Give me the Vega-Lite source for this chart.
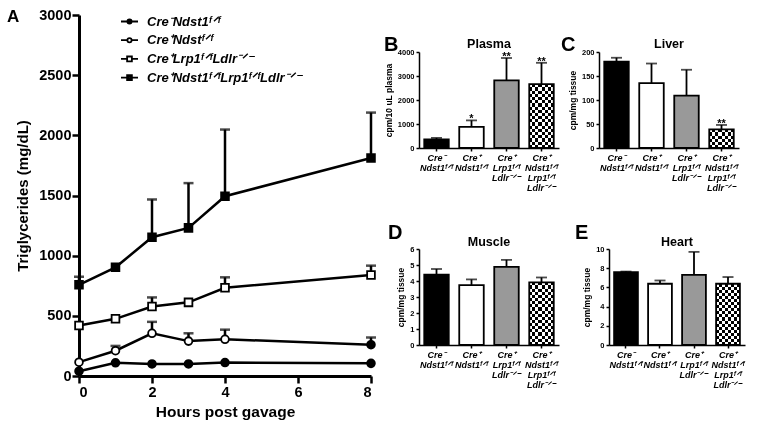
{
"$schema":"https://vega.github.io/schema/vega-lite/v6.json",
"padding":{"left":7,"top":7,"right":5,"bottom":5},
"background":"white",
"config":{"font":"Liberation Sans","view":{"stroke":null},
 "axis":{"grid":false,"domainColor":"black","tickColor":"black","labelColor":"black","titleColor":"black","labelFontWeight":"bold","titleFontWeight":"bold"},
 "title":{"fontWeight":"bold","color":"black"}},
"resolve":{"scale":{"fill":"independent","color":"independent","shape":"independent"}},
"datasets":{
"tg":[
{"sid":1,"series":"Cre⁻Ndst1ᶠᐟᶠ","hour":0,"value":40,"upper":40},
{"sid":1,"series":"Cre⁻Ndst1ᶠᐟᶠ","hour":1,"value":110,"upper":110},
{"sid":1,"series":"Cre⁻Ndst1ᶠᐟᶠ","hour":2,"value":100,"upper":100},
{"sid":1,"series":"Cre⁻Ndst1ᶠᐟᶠ","hour":3,"value":100,"upper":100},
{"sid":1,"series":"Cre⁻Ndst1ᶠᐟᶠ","hour":4,"value":112,"upper":112},
{"sid":1,"series":"Cre⁻Ndst1ᶠᐟᶠ","hour":8,"value":105,"upper":105},
{"sid":2,"series":"Cre⁺Ndstᶠᐟᶠ","hour":0,"value":115,"upper":115},
{"sid":2,"series":"Cre⁺Ndstᶠᐟᶠ","hour":1,"value":210,"upper":250},
{"sid":2,"series":"Cre⁺Ndstᶠᐟᶠ","hour":2,"value":355,"upper":450},
{"sid":2,"series":"Cre⁺Ndstᶠᐟᶠ","hour":3,"value":290,"upper":355},
{"sid":2,"series":"Cre⁺Ndstᶠᐟᶠ","hour":4,"value":305,"upper":385},
{"sid":2,"series":"Cre⁺Ndstᶠᐟᶠ","hour":8,"value":260,"upper":320},
{"sid":3,"series":"Cre⁺Lrp1ᶠᐟᶠLdlr⁻ᐟ⁻","hour":0,"value":420,"upper":420},
{"sid":3,"series":"Cre⁺Lrp1ᶠᐟᶠLdlr⁻ᐟ⁻","hour":1,"value":475,"upper":475},
{"sid":3,"series":"Cre⁺Lrp1ᶠᐟᶠLdlr⁻ᐟ⁻","hour":2,"value":578,"upper":653},
{"sid":3,"series":"Cre⁺Lrp1ᶠᐟᶠLdlr⁻ᐟ⁻","hour":3,"value":612,"upper":612},
{"sid":3,"series":"Cre⁺Lrp1ᶠᐟᶠLdlr⁻ᐟ⁻","hour":4,"value":733,"upper":820},
{"sid":3,"series":"Cre⁺Lrp1ᶠᐟᶠLdlr⁻ᐟ⁻","hour":8,"value":840,"upper":917},
{"sid":4,"series":"Cre⁺Ndst1ᶠᐟᶠLrp1ᶠᐟᶠLdlr⁻ᐟ⁻","hour":0,"value":758,"upper":825},
{"sid":4,"series":"Cre⁺Ndst1ᶠᐟᶠLrp1ᶠᐟᶠLdlr⁻ᐟ⁻","hour":1,"value":903,"upper":903},
{"sid":4,"series":"Cre⁺Ndst1ᶠᐟᶠLrp1ᶠᐟᶠLdlr⁻ᐟ⁻","hour":2,"value":1153,"upper":1467},
{"sid":4,"series":"Cre⁺Ndst1ᶠᐟᶠLrp1ᶠᐟᶠLdlr⁻ᐟ⁻","hour":3,"value":1231,"upper":1603},
{"sid":4,"series":"Cre⁺Ndst1ᶠᐟᶠLrp1ᶠᐟᶠLdlr⁻ᐟ⁻","hour":4,"value":1494,"upper":2048},
{"sid":4,"series":"Cre⁺Ndst1ᶠᐟᶠLrp1ᶠᐟᶠLdlr⁻ᐟ⁻","hour":8,"value":1811,"upper":2189}
],
"bars":[
{"tissue":"Plasma","g":1,"group":"Cre⁻|Ndst1ᶠᐟᶠ","value":360,"upper":420,"sig":""},
{"tissue":"Plasma","g":2,"group":"Cre⁺|Ndst1ᶠᐟᶠ","value":880,"upper":1150,"sig":"*"},
{"tissue":"Plasma","g":3,"group":"Cre⁺|Lrp1ᶠᐟᶠ|Ldlr⁻ᐟ⁻","value":2820,"upper":3750,"sig":"**"},
{"tissue":"Plasma","g":4,"group":"Cre⁺|Ndst1ᶠᐟᶠ|Lrp1ᶠᐟᶠ|Ldlr⁻ᐟ⁻","value":2660,"upper":3550,"sig":"**"},
{"tissue":"Liver","g":1,"group":"Cre⁻|Ndst1ᶠᐟᶠ","value":180,"upper":188,"sig":""},
{"tissue":"Liver","g":2,"group":"Cre⁺|Ndst1ᶠᐟᶠ","value":135,"upper":176,"sig":""},
{"tissue":"Liver","g":3,"group":"Cre⁺|Lrp1ᶠᐟᶠ|Ldlr⁻ᐟ⁻","value":109,"upper":163,"sig":""},
{"tissue":"Liver","g":4,"group":"Cre⁺|Ndst1ᶠᐟᶠ|Lrp1ᶠᐟᶠ|Ldlr⁻ᐟ⁻","value":39,"upper":48,"sig":"**"},
{"tissue":"Muscle","g":1,"group":"Cre⁻|Ndst1ᶠᐟᶠ","value":4.4,"upper":4.75,"sig":""},
{"tissue":"Muscle","g":2,"group":"Cre⁺|Ndst1ᶠᐟᶠ","value":3.74,"upper":4.1,"sig":""},
{"tissue":"Muscle","g":3,"group":"Cre⁺|Lrp1ᶠᐟᶠ|Ldlr⁻ᐟ⁻","value":4.88,"upper":5.32,"sig":""},
{"tissue":"Muscle","g":4,"group":"Cre⁺|Ndst1ᶠᐟᶠ|Lrp1ᶠᐟᶠ|Ldlr⁻ᐟ⁻","value":3.92,"upper":4.22,"sig":""},
{"tissue":"Heart","g":1,"group":"Cre⁻|Ndst1ᶠᐟᶠ","value":7.6,"upper":7.65,"sig":""},
{"tissue":"Heart","g":2,"group":"Cre⁺|Ndst1ᶠᐟᶠ","value":6.38,"upper":6.72,"sig":""},
{"tissue":"Heart","g":3,"group":"Cre⁺|Lrp1ᶠᐟᶠ|Ldlr⁻ᐟ⁻","value":7.3,"upper":9.7,"sig":""},
{"tissue":"Heart","g":4,"group":"Cre⁺|Ndst1ᶠᐟᶠ|Lrp1ᶠᐟᶠ|Ldlr⁻ᐟ⁻","value":6.38,"upper":7.08,"sig":""}
]},
"spacing":5,
"hconcat":[
{
 "width":292,"height":361,
 "title":{"text":"A","anchor":"start","frame":"group","fontSize":17,"offset":-19,"dx":-72},
 "data":{"name":"tg"},
 "encoding":{
  "x":{"field":"hour","type":"quantitative","scale":{"domain":[0,8],"nice":false},"axis":{"values":[0,2,4,6,8],"title":"Hours post gavage","labelFontSize":14.5,"titleFontSize":15.5,"domainWidth":3,"tickWidth":2.5,"tickSize":7,"labelPadding":2,"titlePadding":6}},
  "y":{"field":"value","type":"quantitative","scale":{"domain":[0,3000],"nice":false},"axis":{"values":[0,500,1000,1500,2000,2500,3000],"format":"d","title":"Triglycerides (mg/dL)","labelFontSize":14.5,"titleFontSize":15,"domainWidth":3,"tickWidth":2.5,"tickSize":7,"labelPadding":1,"titlePadding":8}}
 },
 "layer":[
  {"mark":{"type":"line","color":"black","strokeWidth":2.5},"encoding":{"detail":{"field":"sid","type":"nominal"}}},
  {"transform":[{"filter":"datum.upper>datum.value"}],"mark":{"type":"rule","strokeWidth":2.5,"color":"black"},"encoding":{"y2":{"field":"upper"}}},
  {"transform":[{"filter":"datum.upper>datum.value"}],"mark":{"type":"tick","orient":"horizontal","size":10,"thickness":2.5,"color":"black"},"encoding":{"y":{"field":"upper","type":"quantitative"}}},
  {"mark":{"type":"point","size":60,"strokeWidth":1.8,"stroke":"black","opacity":1},"encoding":{
    "shape":{"field":"sid","type":"ordinal","scale":{"domain":[1,2,3,4],"range":["circle","circle","square","square"]},"legend":null},
    "fill":{"condition":{"test":"datum.sid==2 && datum.hour==8","value":"black"},"field":"sid","type":"ordinal","scale":{"domain":[1,2,3,4],"range":["black","white","white","black"]},"legend":null}}},
  {"mark":{"type":"point","opacity":0,"filled":false,"color":"black","strokeWidth":1.8},"encoding":{
    "shape":{"field":"series","type":"nominal","scale":{"domain":["Cre⁻Ndst1ᶠᐟᶠ","Cre⁺Ndstᶠᐟᶠ","Cre⁺Lrp1ᶠᐟᶠLdlr⁻ᐟ⁻","Cre⁺Ndst1ᶠᐟᶠLrp1ᶠᐟᶠLdlr⁻ᐟ⁻"],"range":[
      "M-1,0L-0.25,0M0.25,0L1,0M-0.25,0A0.25,0.25,0,1,0,0.25,0A0.25,0.25,0,1,0,-0.25,0ZM-0.12,0A0.12,0.12,0,1,0,0.12,0A0.12,0.12,0,1,0,-0.12,0ZM-0.03,0L0.03,0",
      "M-1,0L-0.25,0M0.25,0L1,0M-0.25,0A0.25,0.25,0,1,0,0.25,0A0.25,0.25,0,1,0,-0.25,0Z",
      "M-1,0L-0.28,0M0.28,0L1,0M-0.28,-0.28L0.28,-0.28L0.28,0.28L-0.28,0.28Z",
      "M-1,0L-0.28,0M0.28,0L1,0M-0.28,-0.28L0.28,-0.28L0.28,0.28L-0.28,0.28ZM-0.14,-0.14L0.14,-0.14L0.14,0.14L-0.14,0.14ZM-0.03,0L0.03,0"]},
      "legend":{"title":null,"orient":"none","legendX":41,"legendY":-3,"symbolSize":289,"symbolStrokeWidth":1.8,"symbolStrokeColor":"black","symbolFillColor":"transparent","symbolOpacity":1,"labelFontSize":13,"labelFontWeight":"bold","labelFontStyle":"italic","labelColor":"black","rowPadding":1.7,"labelOffset":8,"padding":0,
        "encode":{"symbols":{"update":{"stroke":{"value":"black"},"strokeWidth":{"value":1.8},"opacity":{"value":1},"strokeOpacity":{"value":1}}}}}}}}
 ],
 "resolve":{"scale":{"shape":"independent"}}
},
{
 "spacing":18,
 "vconcat":[
 {"width":1,"height":1,"data":{"values":[]},"mark":{"type":"point","opacity":0},"encoding":{}},
 {"spacing":30,
 "vconcat":[
 {"spacing":2,"hconcat":[
  {"title":{"text":"B","anchor":"start","frame":"group","fontSize":20,"dx":-35,"dy":21},
   "vconcat":[{
    "width":140,"height":96,
    "title":{"text":"Plasma","fontSize":12.5,"offset":3,"dy":5},
    "data":{"name":"bars"},
    "transform":[{"filter":"datum.tissue=='Plasma'"}],
    "encoding":{
     "x":{"field":"group","type":"nominal","sort":null,"scale":{"paddingInner":0.3,"paddingOuter":0.15},"axis":{"title":null,"labelAngle":0,"labelOverlap":false,"labelExpr":"split(datum.label,'|')","labelFontStyle":"italic","labelFontSize":9,"labelLineHeight":10,"tickSize":3,"domainWidth":1.5,"tickWidth":1.5,"labelPadding":2}},
     "y":{"field":"value","type":"quantitative","scale":{"domain":[0,4000]},"axis":{"title":"cpm/10 uL plasma","values":[0,1000,2000,3000,4000],"format":"d","labelFontSize":7.5,"titleFontSize":8.5,"tickSize":3,"domainWidth":1.5,"tickWidth":1.5,"titlePadding":4}}
    },
    "layer":[
     {"mark":{"type":"rule","strokeWidth":1.8,"color":"black"},"encoding":{"y2":{"field":"upper"}}},
     {"mark":{"type":"tick","orient":"horizontal","size":11,"thickness":1.8,"color":"black"},"encoding":{"y":{"field":"upper","type":"quantitative"}}},
     {"transform":[{"filter":"datum.g<4"}],"mark":{"type":"bar","stroke":"black","strokeWidth":1.8},"encoding":{"color":{"field":"g","type":"ordinal","scale":{"domain":[1,2,3],"range":["black","white","#999999"]},"legend":null}}},
     {"transform":[{"filter":"datum.g==4"}],"mark":{"type":"bar","fill":{"gradient":"linear","x1":0,"y1":0,"x2":1,"y2":0,"stops":[{"offset":0,"color":"black"},{"offset":0.125,"color":"black"},{"offset":0.125,"color":"white"},{"offset":0.25,"color":"white"},{"offset":0.25,"color":"black"},{"offset":0.375,"color":"black"},{"offset":0.375,"color":"white"},{"offset":0.5,"color":"white"},{"offset":0.5,"color":"black"},{"offset":0.625,"color":"black"},{"offset":0.625,"color":"white"},{"offset":0.75,"color":"white"},{"offset":0.75,"color":"black"},{"offset":0.875,"color":"black"},{"offset":0.875,"color":"white"},{"offset":1,"color":"white"}]}}},
     {"transform":[{"filter":"datum.g==4"}],"mark":{"type":"bar","blend":"difference","fill":{"gradient":"linear","x1":0,"y1":0,"x2":0,"y2":1,"stops":[{"offset":0,"color":"white"},{"offset":0.05,"color":"white"},{"offset":0.05,"color":"black"},{"offset":0.1,"color":"black"},{"offset":0.1,"color":"white"},{"offset":0.15,"color":"white"},{"offset":0.15,"color":"black"},{"offset":0.2,"color":"black"},{"offset":0.2,"color":"white"},{"offset":0.25,"color":"white"},{"offset":0.25,"color":"black"},{"offset":0.3,"color":"black"},{"offset":0.3,"color":"white"},{"offset":0.35,"color":"white"},{"offset":0.35,"color":"black"},{"offset":0.4,"color":"black"},{"offset":0.4,"color":"white"},{"offset":0.45,"color":"white"},{"offset":0.45,"color":"black"},{"offset":0.5,"color":"black"},{"offset":0.5,"color":"white"},{"offset":0.55,"color":"white"},{"offset":0.55,"color":"black"},{"offset":0.6,"color":"black"},{"offset":0.6,"color":"white"},{"offset":0.65,"color":"white"},{"offset":0.65,"color":"black"},{"offset":0.7,"color":"black"},{"offset":0.7,"color":"white"},{"offset":0.75,"color":"white"},{"offset":0.75,"color":"black"},{"offset":0.8,"color":"black"},{"offset":0.8,"color":"white"},{"offset":0.85,"color":"white"},{"offset":0.85,"color":"black"},{"offset":0.9,"color":"black"},{"offset":0.9,"color":"white"},{"offset":0.95,"color":"white"},{"offset":0.95,"color":"black"},{"offset":1,"color":"black"}]}}},
     {"transform":[{"filter":"datum.g==4"}],"mark":{"type":"bar","fillOpacity":0,"stroke":"black","strokeWidth":1.8}},
     {"mark":{"type":"text","baseline":"alphabetic","dy":2,"fontSize":11,"fontWeight":"bold","color":"black"},"encoding":{"y":{"field":"upper","type":"quantitative"},"text":{"field":"sig"}}}
    ]}]},
  {"title":{"text":"C","anchor":"start","frame":"group","fontSize":20,"dx":-38,"dy":21},
   "vconcat":[{
    "width":140,"height":96,
    "title":{"text":"Liver","fontSize":12.5,"offset":3,"dy":5},
    "data":{"name":"bars"},
    "transform":[{"filter":"datum.tissue=='Liver'"}],
    "encoding":{
     "x":{"field":"group","type":"nominal","sort":null,"scale":{"paddingInner":0.3,"paddingOuter":0.15},"axis":{"title":null,"labelAngle":0,"labelOverlap":false,"labelExpr":"split(datum.label,'|')","labelFontStyle":"italic","labelFontSize":9,"labelLineHeight":10,"tickSize":3,"domainWidth":1.5,"tickWidth":1.5,"labelPadding":2}},
     "y":{"field":"value","type":"quantitative","scale":{"domain":[0,200]},"axis":{"title":"cpm/mg tissue","values":[0,50,100,150,200],"labelFontSize":7.5,"titleFontSize":8.5,"tickSize":3,"domainWidth":1.5,"tickWidth":1.5,"titlePadding":4}}
    },
    "layer":[
     {"mark":{"type":"rule","strokeWidth":1.8,"color":"black"},"encoding":{"y2":{"field":"upper"}}},
     {"mark":{"type":"tick","orient":"horizontal","size":11,"thickness":1.8,"color":"black"},"encoding":{"y":{"field":"upper","type":"quantitative"}}},
     {"transform":[{"filter":"datum.g<4"}],"mark":{"type":"bar","stroke":"black","strokeWidth":1.8},"encoding":{"color":{"field":"g","type":"ordinal","scale":{"domain":[1,2,3],"range":["black","white","#999999"]},"legend":null}}},
     {"transform":[{"filter":"datum.g==4"}],"mark":{"type":"bar","fill":{"gradient":"linear","x1":0,"y1":0,"x2":1,"y2":0,"stops":[{"offset":0,"color":"black"},{"offset":0.125,"color":"black"},{"offset":0.125,"color":"white"},{"offset":0.25,"color":"white"},{"offset":0.25,"color":"black"},{"offset":0.375,"color":"black"},{"offset":0.375,"color":"white"},{"offset":0.5,"color":"white"},{"offset":0.5,"color":"black"},{"offset":0.625,"color":"black"},{"offset":0.625,"color":"white"},{"offset":0.75,"color":"white"},{"offset":0.75,"color":"black"},{"offset":0.875,"color":"black"},{"offset":0.875,"color":"white"},{"offset":1,"color":"white"}]}}},
     {"transform":[{"filter":"datum.g==4"}],"mark":{"type":"bar","blend":"difference","fill":{"gradient":"linear","x1":0,"y1":0,"x2":0,"y2":1,"stops":[{"offset":0,"color":"white"},{"offset":0.1667,"color":"white"},{"offset":0.1667,"color":"black"},{"offset":0.3333,"color":"black"},{"offset":0.3333,"color":"white"},{"offset":0.5,"color":"white"},{"offset":0.5,"color":"black"},{"offset":0.6667,"color":"black"},{"offset":0.6667,"color":"white"},{"offset":0.8333,"color":"white"},{"offset":0.8333,"color":"black"},{"offset":1,"color":"black"}]}}},
     {"transform":[{"filter":"datum.g==4"}],"mark":{"type":"bar","fillOpacity":0,"stroke":"black","strokeWidth":1.8}},
     {"mark":{"type":"text","baseline":"alphabetic","dy":2,"fontSize":11,"fontWeight":"bold","color":"black"},"encoding":{"y":{"field":"upper","type":"quantitative"},"text":{"field":"sig"}}}
    ]}]}
 ]},
 {"spacing":16,"hconcat":[
  {"title":{"text":"D","anchor":"start","frame":"group","fontSize":20,"dx":-31,"dy":11},
   "vconcat":[{
    "width":140,"height":96,
    "title":{"text":"Muscle","fontSize":12.5,"offset":3,"dy":6},
    "data":{"name":"bars"},
    "transform":[{"filter":"datum.tissue=='Muscle'"}],
    "encoding":{
     "x":{"field":"group","type":"nominal","sort":null,"scale":{"paddingInner":0.3,"paddingOuter":0.15},"axis":{"title":null,"labelAngle":0,"labelOverlap":false,"labelExpr":"split(datum.label,'|')","labelFontStyle":"italic","labelFontSize":9,"labelLineHeight":10,"tickSize":3,"domainWidth":1.5,"tickWidth":1.5,"labelPadding":2}},
     "y":{"field":"value","type":"quantitative","scale":{"domain":[0,6]},"axis":{"title":"cpm/mg tissue","values":[0,1,2,3,4,5,6],"labelFontSize":7.5,"titleFontSize":8.5,"tickSize":3,"domainWidth":1.5,"tickWidth":1.5,"titlePadding":4}}
    },
    "layer":[
     {"mark":{"type":"rule","strokeWidth":1.8,"color":"black"},"encoding":{"y2":{"field":"upper"}}},
     {"mark":{"type":"tick","orient":"horizontal","size":11,"thickness":1.8,"color":"black"},"encoding":{"y":{"field":"upper","type":"quantitative"}}},
     {"transform":[{"filter":"datum.g<4"}],"mark":{"type":"bar","stroke":"black","strokeWidth":1.8},"encoding":{"color":{"field":"g","type":"ordinal","scale":{"domain":[1,2,3],"range":["black","white","#999999"]},"legend":null}}},
     {"transform":[{"filter":"datum.g==4"}],"mark":{"type":"bar","fill":{"gradient":"linear","x1":0,"y1":0,"x2":1,"y2":0,"stops":[{"offset":0,"color":"black"},{"offset":0.125,"color":"black"},{"offset":0.125,"color":"white"},{"offset":0.25,"color":"white"},{"offset":0.25,"color":"black"},{"offset":0.375,"color":"black"},{"offset":0.375,"color":"white"},{"offset":0.5,"color":"white"},{"offset":0.5,"color":"black"},{"offset":0.625,"color":"black"},{"offset":0.625,"color":"white"},{"offset":0.75,"color":"white"},{"offset":0.75,"color":"black"},{"offset":0.875,"color":"black"},{"offset":0.875,"color":"white"},{"offset":1,"color":"white"}]}}},
     {"transform":[{"filter":"datum.g==4"}],"mark":{"type":"bar","blend":"difference","fill":{"gradient":"linear","x1":0,"y1":0,"x2":0,"y2":1,"stops":[{"offset":0,"color":"white"},{"offset":0.05,"color":"white"},{"offset":0.05,"color":"black"},{"offset":0.1,"color":"black"},{"offset":0.1,"color":"white"},{"offset":0.15,"color":"white"},{"offset":0.15,"color":"black"},{"offset":0.2,"color":"black"},{"offset":0.2,"color":"white"},{"offset":0.25,"color":"white"},{"offset":0.25,"color":"black"},{"offset":0.3,"color":"black"},{"offset":0.3,"color":"white"},{"offset":0.35,"color":"white"},{"offset":0.35,"color":"black"},{"offset":0.4,"color":"black"},{"offset":0.4,"color":"white"},{"offset":0.45,"color":"white"},{"offset":0.45,"color":"black"},{"offset":0.5,"color":"black"},{"offset":0.5,"color":"white"},{"offset":0.55,"color":"white"},{"offset":0.55,"color":"black"},{"offset":0.6,"color":"black"},{"offset":0.6,"color":"white"},{"offset":0.65,"color":"white"},{"offset":0.65,"color":"black"},{"offset":0.7,"color":"black"},{"offset":0.7,"color":"white"},{"offset":0.75,"color":"white"},{"offset":0.75,"color":"black"},{"offset":0.8,"color":"black"},{"offset":0.8,"color":"white"},{"offset":0.85,"color":"white"},{"offset":0.85,"color":"black"},{"offset":0.9,"color":"black"},{"offset":0.9,"color":"white"},{"offset":0.95,"color":"white"},{"offset":0.95,"color":"black"},{"offset":1,"color":"black"}]}}},
     {"transform":[{"filter":"datum.g==4"}],"mark":{"type":"bar","fillOpacity":0,"stroke":"black","strokeWidth":1.8}}
    ]}]},
  {"title":{"text":"E","anchor":"start","frame":"group","fontSize":20,"dx":-34,"dy":11},
   "vconcat":[{
    "width":136,"height":96,
    "title":{"text":"Heart","fontSize":12.5,"offset":3,"dy":6},
    "data":{"name":"bars"},
    "transform":[{"filter":"datum.tissue=='Heart'"}],
    "encoding":{
     "x":{"field":"group","type":"nominal","sort":null,"scale":{"paddingInner":0.3,"paddingOuter":0.15},"axis":{"title":null,"labelAngle":0,"labelOverlap":false,"labelExpr":"split(datum.label,'|')","labelFontStyle":"italic","labelFontSize":9,"labelLineHeight":10,"tickSize":3,"domainWidth":1.5,"tickWidth":1.5,"labelPadding":2}},
     "y":{"field":"value","type":"quantitative","scale":{"domain":[0,10]},"axis":{"title":"cpm/mg tissue","values":[0,2,4,6,8,10],"labelFontSize":7.5,"titleFontSize":8.5,"tickSize":3,"domainWidth":1.5,"tickWidth":1.5,"titlePadding":4}}
    },
    "layer":[
     {"mark":{"type":"rule","strokeWidth":1.8,"color":"black"},"encoding":{"y2":{"field":"upper"}}},
     {"mark":{"type":"tick","orient":"horizontal","size":11,"thickness":1.8,"color":"black"},"encoding":{"y":{"field":"upper","type":"quantitative"}}},
     {"transform":[{"filter":"datum.g<4"}],"mark":{"type":"bar","stroke":"black","strokeWidth":1.8},"encoding":{"color":{"field":"g","type":"ordinal","scale":{"domain":[1,2,3],"range":["black","white","#999999"]},"legend":null}}},
     {"transform":[{"filter":"datum.g==4"}],"mark":{"type":"bar","fill":{"gradient":"linear","x1":0,"y1":0,"x2":1,"y2":0,"stops":[{"offset":0,"color":"black"},{"offset":0.125,"color":"black"},{"offset":0.125,"color":"white"},{"offset":0.25,"color":"white"},{"offset":0.25,"color":"black"},{"offset":0.375,"color":"black"},{"offset":0.375,"color":"white"},{"offset":0.5,"color":"white"},{"offset":0.5,"color":"black"},{"offset":0.625,"color":"black"},{"offset":0.625,"color":"white"},{"offset":0.75,"color":"white"},{"offset":0.75,"color":"black"},{"offset":0.875,"color":"black"},{"offset":0.875,"color":"white"},{"offset":1,"color":"white"}]}}},
     {"transform":[{"filter":"datum.g==4"}],"mark":{"type":"bar","blend":"difference","fill":{"gradient":"linear","x1":0,"y1":0,"x2":0,"y2":1,"stops":[{"offset":0,"color":"white"},{"offset":0.05,"color":"white"},{"offset":0.05,"color":"black"},{"offset":0.1,"color":"black"},{"offset":0.1,"color":"white"},{"offset":0.15,"color":"white"},{"offset":0.15,"color":"black"},{"offset":0.2,"color":"black"},{"offset":0.2,"color":"white"},{"offset":0.25,"color":"white"},{"offset":0.25,"color":"black"},{"offset":0.3,"color":"black"},{"offset":0.3,"color":"white"},{"offset":0.35,"color":"white"},{"offset":0.35,"color":"black"},{"offset":0.4,"color":"black"},{"offset":0.4,"color":"white"},{"offset":0.45,"color":"white"},{"offset":0.45,"color":"black"},{"offset":0.5,"color":"black"},{"offset":0.5,"color":"white"},{"offset":0.55,"color":"white"},{"offset":0.55,"color":"black"},{"offset":0.6,"color":"black"},{"offset":0.6,"color":"white"},{"offset":0.65,"color":"white"},{"offset":0.65,"color":"black"},{"offset":0.7,"color":"black"},{"offset":0.7,"color":"white"},{"offset":0.75,"color":"white"},{"offset":0.75,"color":"black"},{"offset":0.8,"color":"black"},{"offset":0.8,"color":"white"},{"offset":0.85,"color":"white"},{"offset":0.85,"color":"black"},{"offset":0.9,"color":"black"},{"offset":0.9,"color":"white"},{"offset":0.95,"color":"white"},{"offset":0.95,"color":"black"},{"offset":1,"color":"black"}]}}},
     {"transform":[{"filter":"datum.g==4"}],"mark":{"type":"bar","fillOpacity":0,"stroke":"black","strokeWidth":1.8}}
    ]}]}
 ]}
 ]}
 ]
}
]
}
